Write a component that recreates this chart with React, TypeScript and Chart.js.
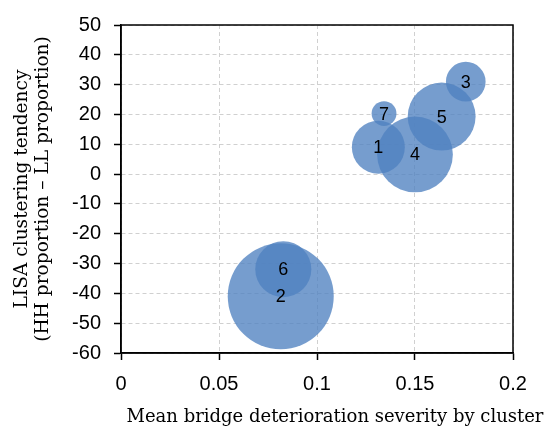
import { useEffect, useRef } from "react";
import { Chart, registerables } from "chart.js";

Chart.register(...registerables);

// clusters 1..7
const clusterLabels = ["1", "2", "3", "4", "5", "6", "7"];
const severity = [0.1313, 0.0815, 0.1759, 0.15, 0.1636, 0.0828, 0.1342];
const lisaTendency = [9, -41, 31, 6.6, 19.3, -31.9, 20.3];
// relative cluster size (bubble area)
const clusterSize = [25, 100, 14, 51, 41, 28, 5.5];

const xTicks = [0, 0.05, 0.1, 0.15, 0.2];
const yTicks = [50, 40, 30, 20, 10, 0, -10, -20, -30, -40, -50, -60];

const xTitle = "Mean bridge deterioration severity by cluster";
const yTitle = ["LISA clustering tendency", "(HH proportion \u2013 LL proportion)"];

const tickFont = { family: "'Liberation Sans', Arial, sans-serif", size: 20 };
const serif = "'DejaVu Serif', serif";

const bubbleLabels = {
  id: "bubbleLabels",
  afterDatasetsDraw(chart: Chart) {
    const ctx = chart.ctx;
    const meta = chart.getDatasetMeta(0);
    ctx.save();
    ctx.fillStyle = "#000";
    ctx.font = "18px 'Liberation Sans', Arial, sans-serif";
    ctx.textAlign = "center";
    ctx.textBaseline = "middle";
    meta.data.forEach((el: any, i: number) => {
      ctx.fillText(clusterLabels[i], el.x, el.y + 1);
    });
    ctx.restore();
  },
};

// closed black frame round the plot plus the x-axis title (sits a bit right of centre)
const frame = {
  id: "frame",
  afterDraw(chart: Chart) {
    const { ctx, chartArea: a } = chart;
    ctx.save();
    ctx.strokeStyle = "#000";
    ctx.lineWidth = 1.5;
    ctx.strokeRect(a.left, a.top, a.right - a.left, a.bottom - a.top);
    ctx.fillStyle = "#000";
    ctx.font = `18px ${serif}`;
    ctx.textAlign = "center";
    ctx.textBaseline = "alphabetic";
    ctx.fillText(xTitle, (a.left + a.right) / 2 + 18, a.bottom + 69);
    ctx.restore();
  },
};

export default function App() {
  const canvasRef = useRef<HTMLCanvasElement>(null);

  useEffect(() => {
    document.body.style.margin = "0";
    if (!canvasRef.current) return;
    const chart = new Chart(canvasRef.current, {
      type: "bubble",
      data: {
        datasets: [
          {
            label: "Clusters",
            data: severity.map((x, i) => ({
              x,
              y: lisaTendency[i],
              r: 5.3 * Math.sqrt(clusterSize[i]),
            })),
            backgroundColor: "rgba(79, 129, 192, 0.78)",
            borderWidth: 0,
          },
        ],
      },
      options: {
        animation: false,
        responsive: false,
        layout: { autoPadding: false, padding: { top: 23, right: 37, left: 0, bottom: 0 } },
        plugins: {
          legend: { display: false },
          tooltip: { enabled: false },
        },
        scales: {
          x: {
            type: "linear",
            min: 0,
            max: 0.2,
            afterBuildTicks: (s: any) => {
              s.ticks = xTicks.map((v) => ({ value: v }));
            },
            afterFit: (s: any) => {
              s.height = 81;
            },
            ticks: {
              font: tickFont,
              color: "#000",
              padding: 12,
              callback: (v: any) => String(v),
            },
            grid: {
              color: "#d0d0d0",
              lineWidth: 1,
              tickColor: "#000",
              tickLength: 7,
              tickWidth: 1.5,
              tickBorderDash: [],
            },
            border: { color: "#000", width: 1.5, dash: [4, 3] },
          },
          y: {
            type: "linear",
            min: -60,
            max: 50,
            afterBuildTicks: (s: any) => {
              s.ticks = yTicks.map((v) => ({ value: v }));
            },
            afterFit: (s: any) => {
              s.width = 121;
            },
            ticks: {
              font: tickFont,
              color: "#000",
              padding: 13,
            },
            grid: {
              color: "#d0d0d0",
              lineWidth: 1,
              tickColor: "#000",
              tickLength: 7,
              tickWidth: 1.5,
              tickBorderDash: [],
            },
            border: { color: "#000", width: 1.5, dash: [4, 3] },
            title: {
              display: true,
              text: yTitle,
              font: { family: serif, size: 18.6, lineHeight: 1.13 },
              color: "#000",
              padding: { top: 11.5, bottom: 0 },
            },
          },
        },
      },
      plugins: [bubbleLabels, frame],
    });
    return () => chart.destroy();
  }, []);

  return <canvas ref={canvasRef} width={550} height={434} />;
}
